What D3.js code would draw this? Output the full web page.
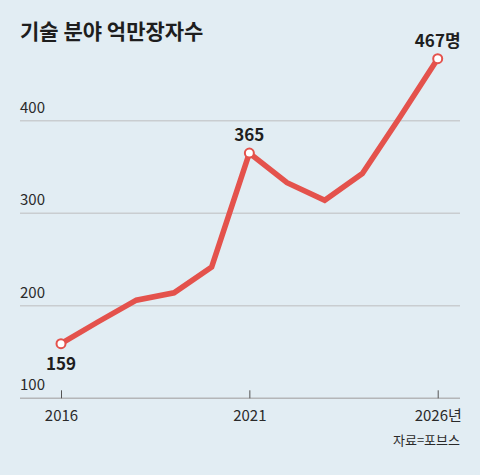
<!DOCTYPE html>
<html>
<head>
<meta charset="utf-8">
<script src="https://cdn.jsdelivr.net/npm/d3@7"></script>
<style>
  html, body { margin: 0; padding: 0; background: #e2edf3; }
  svg { display: block; font-family: "Noto Sans CJK KR", "Noto Sans", sans-serif; }
</style>
</head>
<body>
<svg id="chart" width="480" height="475"></svg>
<script>
const years = [2016, 2017, 2018, 2019, 2020, 2021, 2022, 2023, 2024, 2025, 2026];
const billionaires = [159, 183, 206, 214, 242, 365, 333, 314, 343, 404, 467];
const yTicks = [100, 200, 300, 400];
const xTicks = [2016, 2021, 2026];
const labeled = [
    { year: 2016, text: '159', below: true },
    { year: 2021, text: '365', below: false },
    { year: 2026, text: '467명', below: false }
];

const svg = d3.select('#chart');

svg.append('rect')
    .attr('width', 480)
    .attr('height', 475)
    .attr('fill', '#e2edf3');

// title
svg.append('text')
    .attr('x', 20)
    .attr('y', 39)
    .attr('font-size', 21)
    .attr('font-weight', 700)
    .attr('fill', '#1e1e1e')
    .text('기술 분야 억만장자수');

const x = d3.scaleLinear().domain([2016, 2026]).range([61, 437.7]);
const y = d3.scaleLinear().domain([100, 400]).range([398.3, 120.7]);

// gridlines + y labels
const grid = svg.append('g');
grid.selectAll('line')
    .data(yTicks)
    .join('line')
    .attr('x1', 20)
    .attr('x2', 460)
    .attr('y1', d => y(d))
    .attr('y2', d => y(d))
    .attr('stroke', d => d === 100 ? '#b4b6b8' : '#c9cdd0')
    .attr('stroke-width', 1.5);

grid.selectAll('text')
    .data(yTicks)
    .join('text')
    .attr('x', 20)
    .attr('y', d => y(d) - 8)
    .attr('font-size', 15)
    .attr('fill', '#2a2a2a')
    .text(d => d);

// x axis ticks
const xAxis = svg.append('g')
    .attr('transform', `translate(0,${y(100)})`)
    .call(d3.axisBottom(x)
        .tickValues(xTicks)
        .tickSize(-8)
        .tickFormat(d => d === 2026 ? '2026년' : d));

xAxis.select('.domain').remove();
xAxis.selectAll('.tick line').attr('stroke', '#555').attr('stroke-width', 1);
xAxis.selectAll('.tick text')
    .attr('y', 12)
    .attr('dy', '0.71em')
    .attr('font-size', 15)
    .attr('font-family', '"Noto Sans CJK KR", "Noto Sans", sans-serif')
    .attr('fill', '#2a2a2a');

// line
const points = years.map((yr, i) => ({ year: yr, value: billionaires[i] }));

svg.append('path')
    .datum(points)
    .attr('fill', 'none')
    .attr('stroke', '#e4524c')
    .attr('stroke-width', 5.5)
    .attr('stroke-linejoin', 'miter')
    .attr('d', d3.line().x(d => x(d.year)).y(d => y(d.value)));

// markers + labels
const marks = labeled.map(l => ({ ...l, value: points.find(p => p.year === l.year).value }));

svg.selectAll('circle.mark')
    .data(marks)
    .join('circle')
    .attr('class', 'mark')
    .attr('cx', d => x(d.year))
    .attr('cy', d => y(d.value))
    .attr('r', 4.5)
    .attr('fill', '#fff')
    .attr('stroke', '#e4524c')
    .attr('stroke-width', 2);

svg.selectAll('text.val')
    .data(marks)
    .join('text')
    .attr('class', 'val')
    .attr('x', d => x(d.year))
    .attr('y', d => d.below ? y(d.value) + 26 : y(d.value) - 12)
    .attr('text-anchor', 'middle')
    .attr('font-size', 17)
    .attr('font-weight', 700)
    .attr('fill', '#1e1e1e')
    .text(d => d.text);

// source
svg.append('text')
    .attr('x', 460)
    .attr('y', 445)
    .attr('text-anchor', 'end')
    .attr('font-size', 13)
    .attr('fill', '#2a2a2a')
    .text('자료=포브스');
</script>
</body>
</html>
